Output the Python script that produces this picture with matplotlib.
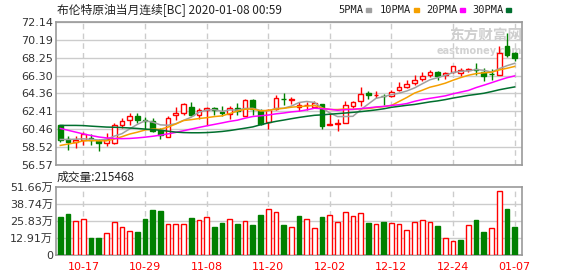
import matplotlib
matplotlib.use("Agg")
import matplotlib.pyplot as plt
import numpy as np

# daily bars, 2019-10-14 .. 2020-01-07
dates = ["10-14", "10-15", "10-16", "10-17", "10-18", "10-21", "10-22", "10-23", "10-24", "10-25",
         "10-28", "10-29", "10-30", "10-31", "11-01", "11-04", "11-05", "11-06", "11-07", "11-08",
         "11-11", "11-12", "11-13", "11-14", "11-15", "11-18", "11-19", "11-20", "11-21", "11-22",
         "11-25", "11-26", "11-27", "11-28", "11-29", "12-02", "12-03", "12-04", "12-05", "12-06",
         "12-09", "12-10", "12-11", "12-12", "12-13", "12-16", "12-17", "12-18", "12-19", "12-20",
         "12-23", "12-24", "12-26", "12-27", "12-30", "12-31", "01-02", "01-03", "01-06", "01-07"]
tick_dates = ["10-17", "10-29", "11-08", "11-20", "12-02", "12-12", "12-24", "01-07"]

opens = [60.88, 59.35, 59.06, 59.30, 59.50, 59.21, 58.96, 58.96, 60.88, 61.42,
         61.93, 61.46, 61.35, 60.33, 59.57, 62.00, 62.22, 62.87, 62.04, 62.58,
         62.76, 62.29, 62.15, 62.76, 61.89, 63.60, 62.40, 61.24, 62.62, 63.78,
         63.70, 62.84, 63.06, 62.91, 63.20, 60.95, 61.06, 61.10, 63.02, 63.49,
         64.40, 64.18, 64.07, 64.03, 64.72, 65.08, 65.48, 65.95, 66.32, 66.68,
         66.39, 66.68, 66.57, 66.93, 67.04, 66.75, 66.50, 66.39, 69.58, 68.74]
highs = [60.90, 59.72, 59.72, 60.20, 59.97, 59.43, 60.08, 61.13, 61.71, 62.26,
         62.26, 61.78, 61.68, 60.62, 61.89, 62.87, 63.34, 63.42, 62.76, 62.87,
         62.91, 62.98, 62.98, 63.34, 63.78, 63.78, 62.62, 62.69, 64.22, 64.43,
         63.95, 63.42, 63.42, 63.49, 63.20, 62.22, 61.60, 63.49, 63.56, 65.01,
         64.58, 64.65, 64.29, 64.76, 65.66, 65.85, 66.39, 66.68, 66.93, 66.82,
         66.75, 67.37, 67.11, 67.18, 67.66, 67.11, 67.04, 69.58, 70.92, 68.92]
lows = [59.06, 58.19, 58.45, 58.80, 58.80, 58.05, 58.59, 58.81, 60.59, 60.88,
        61.17, 60.44, 60.15, 59.35, 59.57, 61.42, 62.04, 61.89, 61.60, 60.88,
        62.04, 61.89, 61.53, 62.04, 61.89, 62.04, 60.88, 60.44, 62.51, 63.13,
        63.20, 62.48, 62.58, 62.76, 60.48, 60.90, 60.30, 61.10, 62.76, 62.95,
        63.78, 63.85, 63.05, 63.92, 64.58, 64.94, 65.30, 65.74, 66.10, 65.85,
        65.95, 66.57, 66.21, 66.68, 66.39, 65.74, 65.85, 66.32, 68.38, 67.84]
closes = [59.32, 59.06, 59.25, 59.95, 59.25, 58.96, 59.43, 60.95, 61.31, 61.86,
          61.42, 61.35, 60.26, 59.79, 61.68, 62.26, 63.16, 61.97, 62.55, 62.76,
          62.55, 62.22, 62.76, 62.44, 63.67, 62.62, 61.06, 62.51, 63.85, 63.71,
          63.75, 63.05, 63.10, 63.27, 60.77, 60.98, 61.10, 63.13, 63.38, 64.29,
          64.14, 64.22, 64.03, 64.47, 65.08, 65.37, 65.85, 66.28, 66.68, 66.21,
          66.64, 67.37, 66.93, 66.97, 66.90, 66.21, 66.46, 68.74, 68.60, 68.19]

# volume in units of 10k (万)
volumes = [28.7, 31.0, 25.5, 27.2, 12.9, 12.9, 16.4, 24.7, 20.9, 17.9,
           17.1, 27.2, 34.0, 33.3, 23.2, 23.2, 23.2, 28.0, 26.5, 28.5,
           21.2, 23.9, 27.2, 23.4, 25.5, 22.7, 30.2, 34.8, 32.3, 22.7,
           20.9, 29.5, 27.2, 20.4, 28.7, 30.0, 24.9, 32.3, 29.2, 31.5,
           24.2, 23.2, 24.9, 23.9, 23.2, 18.9, 24.7, 26.5, 24.7, 21.9,
           12.9, 10.6, 11.3, 22.4, 26.5, 17.4, 20.4, 48.4, 34.8, 21.5468]

ma5 = [59.35, 59.35, 59.38, 59.42, 59.37, 59.29, 59.37, 59.71, 59.98, 60.50,
       60.99, 61.38, 61.24, 60.94, 60.90, 61.07, 61.43, 61.77, 62.32, 62.54,
       62.60, 62.41, 62.57, 62.55, 62.73, 62.74, 62.51, 62.46, 62.74, 62.75,
       62.98, 63.37, 63.49, 63.38, 62.79, 62.23, 61.84, 61.85, 61.87, 62.58,
       63.21, 63.83, 64.01, 64.23, 64.39, 64.63, 64.96, 65.41, 65.85, 66.08,
       66.33, 66.64, 66.77, 66.82, 66.96, 66.88, 66.69, 67.06, 67.38, 67.64]
ma10 = [58.70, 58.85, 59.00, 59.20, 59.22, 59.20, 59.20, 59.40, 59.65, 59.94,
        60.14, 60.38, 60.48, 60.46, 60.70, 61.03, 61.41, 61.51, 61.63, 61.72,
        61.84, 61.92, 62.17, 62.44, 62.64, 62.67, 62.46, 62.52, 62.65, 62.74,
        62.86, 62.94, 62.98, 63.06, 62.77, 62.61, 62.61, 62.67, 62.63, 62.69,
        62.72, 62.84, 62.93, 63.05, 63.49, 63.92, 64.40, 64.71, 65.04, 65.24,
        65.48, 65.80, 66.09, 66.34, 66.52, 66.61, 66.67, 66.92, 67.10, 67.30]
ma20 = [60.55, 60.35, 60.15, 59.95, 59.78, 59.62, 59.52, 59.46, 59.44, 59.46,
        59.52, 59.60, 59.70, 59.82, 59.96, 60.12, 60.30, 60.48, 60.66, 60.83,
        60.99, 61.15, 61.32, 61.45, 61.67, 61.85, 61.93, 62.01, 62.14, 62.23,
        62.35, 62.43, 62.57, 62.75, 62.70, 62.64, 62.53, 62.59, 62.63, 62.71,
        62.79, 62.89, 62.95, 63.06, 63.13, 63.26, 63.50, 63.69, 63.83, 63.96,
        64.10, 64.32, 64.51, 64.69, 65.00, 65.26, 65.53, 65.81, 66.07, 66.27]
ma30 = [60.88, 60.88, 60.88, 60.86, 60.80, 60.75, 60.70, 60.68, 60.65, 60.60,
        60.55, 60.48, 60.42, 60.35, 60.25, 60.15, 60.10, 60.08, 60.08, 60.10,
        60.15, 60.22, 60.32, 60.45, 60.58, 60.72, 60.95, 61.15, 61.32, 61.46,
        61.61, 61.75, 61.87, 61.98, 62.03, 62.10, 62.16, 62.23, 62.30, 62.38,
        62.47, 62.57, 62.69, 62.85, 62.96, 63.07, 63.16, 63.30, 63.44, 63.55,
        63.69, 63.86, 64.00, 64.15, 64.26, 64.38, 64.56, 64.76, 64.92, 65.07]

price_ticks = [56.57, 58.52, 60.46, 62.41, 64.36, 66.30, 68.25, 70.19, 72.14]
vol_ticks = [0, 12.91, 25.83, 38.74, 51.66]

RED = "#ff0000"
GREEN = "#008000"
GRID = "#cccccc"
SPINE = "#999999"
TXT = "#333333"

plt.rcParams['font.family'] = ['DejaVu Sans', 'Noto Sans CJK SC']

fig = plt.figure(figsize=(5.78, 2.76), dpi=100)
W, H = 578.0, 276.0
ax = fig.add_axes([56 / W, 1 - 165 / H, 466 / W, 143 / H])
axv = fig.add_axes([56 / W, 1 - 255 / H, 466 / W, 68.3 / H])

x = np.arange(len(closes))
o = np.array(opens)
c = np.array(closes)
up = c >= o
tick_idx = [dates.index(d) for d in tick_dates]
bw = 0.62

for a in (ax, axv):
    a.set_xlim(-0.56, 59.96)
    for i in tick_idx:
        a.axvline(i, color=GRID, lw=1, ls=(0, (4, 3)), zorder=0)
    for s in a.spines.values():
        s.set_color(SPINE)
        s.set_linewidth(1.2)
    a.tick_params(length=0, colors=TXT, labelsize=8, pad=2)

# price panel
ax.set_ylim(price_ticks[0], price_ticks[-1])
ax.set_yticks(price_ticks)
ax.set_yticklabels([f"{v:.2f}" for v in price_ticks])
for v in price_ticks:
    ax.axhline(v, color=GRID, lw=1, zorder=0)
ax.set_xticks([])

# watermark
ax.text(1.0, 0.905, "东方财富网", transform=ax.transAxes, ha="right", va="center",
        fontsize=10.5, fontweight="bold", color="#cfcfcf", family=['Noto Sans CJK SC'], zorder=1)
ax.text(1.0, 0.8, "eastmoney.com", transform=ax.transAxes, ha="right", va="center",
        fontsize=7, fontweight="bold", color="#d2d2d2", zorder=1)

cols = np.where(up, RED, GREEN)
ax.vlines(x, lows, highs, colors=cols, lw=1, zorder=2)
body_lo = np.minimum(o, c)
body_h = np.maximum(np.abs(c - o), 0.03)
ax.bar(x, body_h, bottom=body_lo, width=bw, color=np.where(up, "white", GREEN),
       edgecolor=cols, linewidth=1, zorder=3)

ax.plot(x, ma5, color="#a0a0a0", lw=1.1, zorder=4)
ax.plot(x, ma10, color="#f5a000", lw=1.1, zorder=4)
ax.plot(x, ma20, color="#ff00ff", lw=1.1, zorder=4)
ax.plot(x, ma30, color="#006f2e", lw=1.1, zorder=4)

fig.text(57 / W, 1 - 10 / H, "布伦特原油当月连续[BC] 2020-01-08 00:59", ha="left", va="center",
         fontsize=8.5, color="#222222", family=['Noto Sans CJK SC', 'DejaVu Sans'])

leg = [("5PMA", "#a0a0a0", 338), ("10PMA", "#f5a000", 380), ("20PMA", "#ff00ff", 426),
       ("30PMA", "#006f2e", 472)]
for name, col, px in leg:
    fig.text(px / W, 1 - 10 / H, name, ha="left", va="center", fontsize=7.5,
             color="#222222", family=['DejaVu Sans Mono'])
    sw_x = px + len(name) * 5.9 + 4
    fig.patches.append(plt.Rectangle((sw_x / W, 1 - 11.5 / H), 5 / W, 3 / H,
                                     transform=fig.transFigure, color=col))

# volume panel, coloured by close vs previous close
prev = np.concatenate([[opens[0]], c[:-1]])
vup = c > prev
vcols = np.where(vup, RED, GREEN)
axv.set_ylim(0, vol_ticks[-1])
axv.set_yticks(vol_ticks)
axv.set_yticklabels(["0"] + [f"{v:.2f}万" for v in vol_ticks[1:]])
for v in vol_ticks[1:-1]:
    axv.axhline(v, color=GRID, lw=1, zorder=0)
axv.bar(x, volumes, width=bw, color=np.where(vup, "white", GREEN), edgecolor=vcols,
        linewidth=1, zorder=3)
axv.set_xticks(tick_idx)
axv.set_xticklabels(tick_dates, color=RED, fontsize=8)
axv.tick_params(axis="x", pad=5, colors=RED)

fig.text(57 / W, 1 - 177 / H, "成交量:%d" % round(volumes[-1] * 10000), ha="left",
         va="center", fontsize=8.5, color="#222222", family=['Noto Sans CJK SC', 'DejaVu Sans'])

fig.savefig("out.png", dpi=100, facecolor="white")
